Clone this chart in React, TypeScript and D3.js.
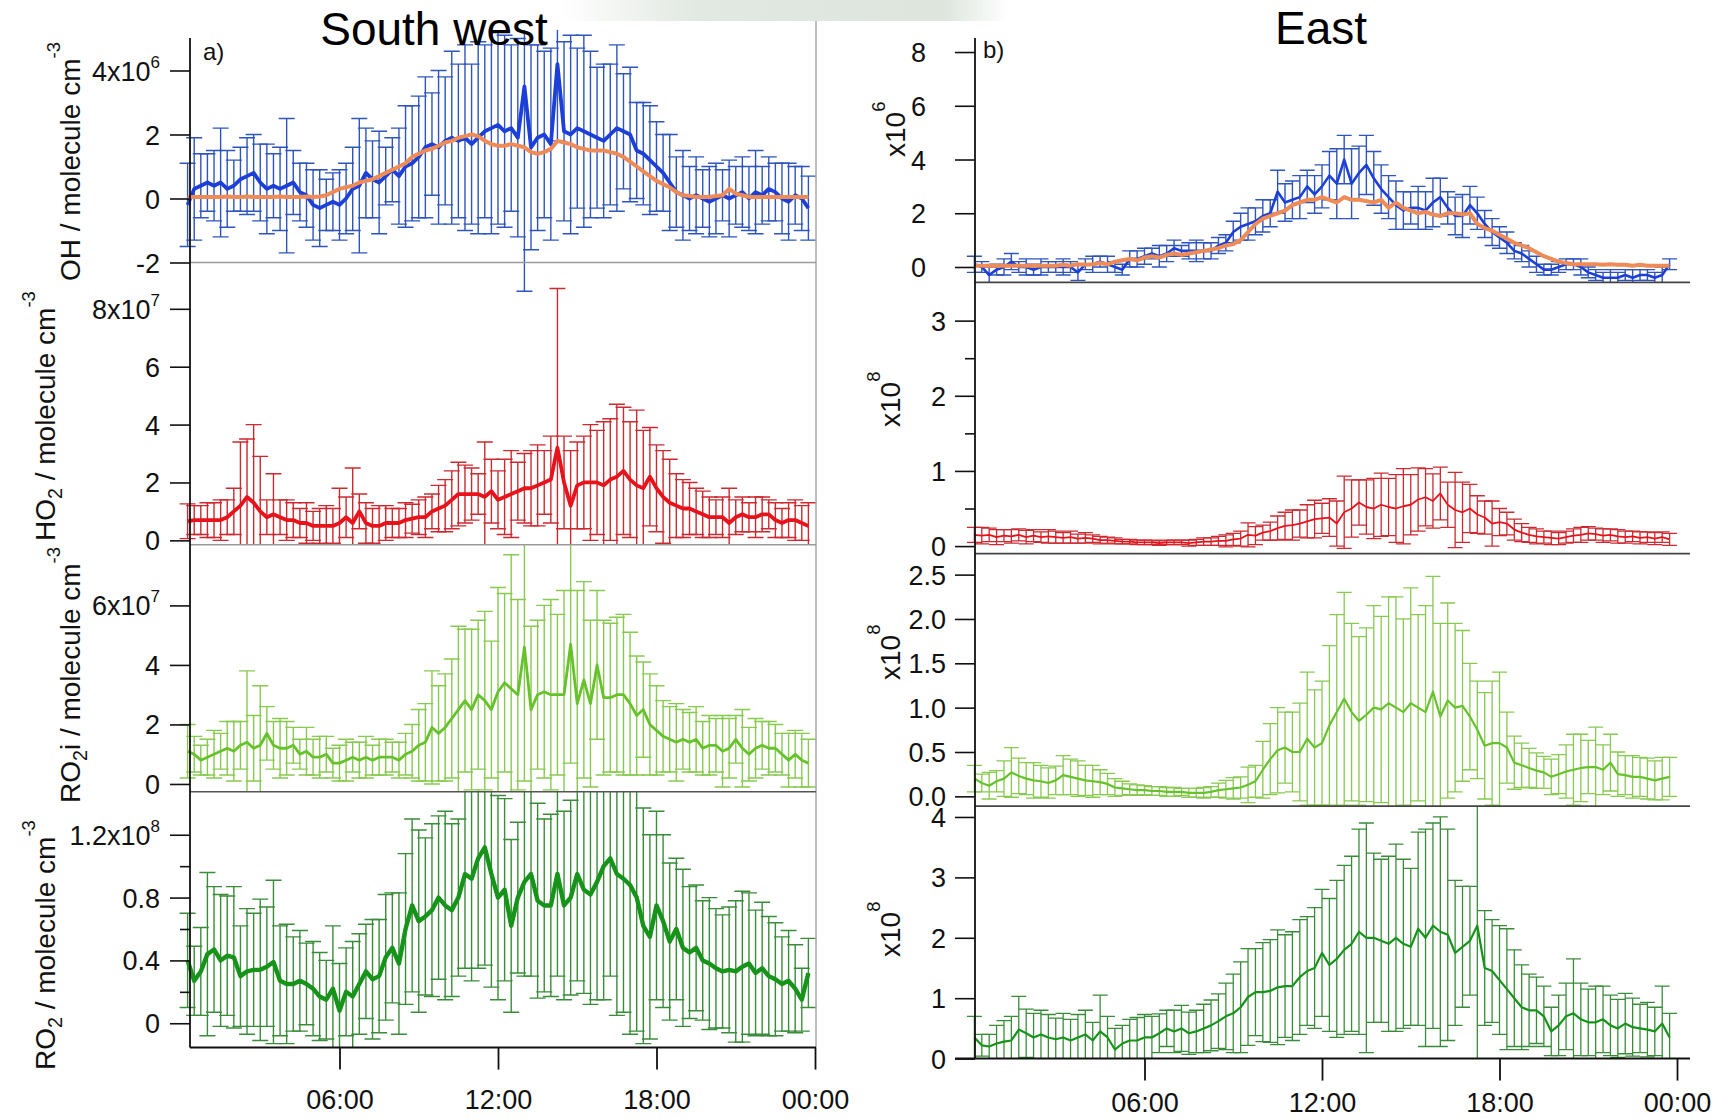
import React, { useEffect, useRef } from "react";
import * as d3 from "d3";

// time of day of each 15-min bin, in hours (00:15 ... 23:45)
const hours: number[] = d3.range(1, 96).map((i) => i / 4);

// ---- South west (a) ----
// OH, 1e6 molecule cm-3
const swOH = [
  -0.2, 0.3, 0.4, 0.5, 0.4, 0.5, 0.3, 0.4, 0.6, 0.7, 0.8, 0.5, 0.3, 0.4, 0.3, 0.4,
  0.5, 0.2, 0.1, -0.2, -0.3, -0.2, -0.1, -0.2, 0.0, 0.3, 0.4, 0.8, 0.6, 0.5, 0.7, 0.9,
  0.7, 1.0, 1.1, 1.3, 1.6, 1.7, 1.6, 1.8, 1.9, 1.8, 1.9, 1.7, 1.9, 2.1, 2.2, 2.3,
  2.1, 2.2, 1.9, 3.5, 1.6, 1.9, 2.0, 1.7, 4.2, 2.1, 2.0, 2.2, 2.1, 2.0, 1.9, 1.8,
  2.0, 2.2, 2.1, 2.0, 1.5, 1.4, 1.2, 1.0, 0.8, 0.5, 0.2, 0.1, 0.0, 0.1, 0.0, -0.1,
  0.0, 0.1, 0.0, 0.1, 0.2, 0.0, 0.2, 0.1, 0.3, 0.2, 0.0, -0.1, 0.1, 0.0, -0.3,
];
const swOHErr = [
  1.3, 1.6, 1.0, 0.9, 1.1, 1.7, 1.2, 0.8, 1.0, 1.2, 1.2, 1.2, 1.4, 1.0, 1.3, 2.1,
  1.0, 0.9, 1.0, 1.1, 1.2, 0.8, 0.9, 1.1, 1.1, 1.3, 2.1, 1.4, 1.2, 1.6, 0.9, 1.0,
  1.5, 1.9, 1.8, 1.9, 2.2, 1.6, 2.4, 2.0, 2.7, 2.4, 2.9, 2.5, 3.0, 2.7, 3.3, 3.1,
  3.0, 2.6, 3.1, 6.4, 3.2, 2.9, 2.6, 3.0, 2.4, 2.8, 3.1, 2.5, 3.0, 2.6, 2.2, 2.4,
  2.2, 2.6, 1.8, 2.1, 1.5, 1.6, 1.7, 1.4, 1.2, 1.5, 1.1, 1.4, 1.0, 1.2, 0.9, 1.1,
  1.1, 0.8, 1.2, 0.9, 1.1, 1.0, 1.3, 0.9, 1.0, 0.9, 1.1, 1.2, 0.9, 1.0, 1.0,
];
const swOHModel = [
  0.05, 0.05, 0.05, 0.05, 0.05, 0.05, 0.06, 0.05, 0.05, 0.06, 0.05, 0.05, 0.05, 0.05, 0.06, 0.05,
  0.05, 0.05, 0.06, 0.05, 0.06, 0.1, 0.2, 0.3, 0.35, 0.4, 0.5, 0.55, 0.6, 0.7, 0.8, 0.9,
  1.0, 1.1, 1.3, 1.4, 1.5, 1.55, 1.65, 1.75, 1.8, 1.9, 1.95, 2.0, 1.95, 1.8, 1.7, 1.65,
  1.65, 1.7, 1.65, 1.6, 1.45, 1.4, 1.45, 1.55, 1.8, 1.75, 1.7, 1.6, 1.55, 1.5, 1.5, 1.5,
  1.45, 1.4, 1.3, 1.15, 1.0, 0.85, 0.7, 0.55, 0.45, 0.35, 0.2, 0.1, 0.08, 0.05, 0.05, 0.05,
  0.08, 0.1, 0.3, 0.15, 0.1, 0.05, 0.05, 0.05, 0.05, 0.05, 0.05, 0.05, 0.05, 0.05, 0.05,
];
// HO2, 1e7 molecule cm-3
const swHO2 = [
  0.66, 0.7, 0.7, 0.7, 0.7, 0.7, 0.8, 1.0, 1.2, 1.5, 1.3, 1.0, 0.8, 0.9, 0.8, 0.7,
  0.7, 0.6, 0.6, 0.5, 0.5, 0.5, 0.5, 0.6, 0.8, 0.6, 1.0, 0.6, 0.5, 0.5, 0.6, 0.6,
  0.6, 0.7, 0.75, 0.8, 0.8, 1.0, 1.1, 1.2, 1.4, 1.6, 1.6, 1.6, 1.6, 1.5, 1.7, 1.4,
  1.5, 1.6, 1.7, 1.8, 1.8, 1.9, 2.0, 2.1, 3.2, 2.0, 1.2, 1.9, 2.0, 2.0, 2.0, 1.9,
  2.1, 2.2, 2.4, 2.1, 1.9, 1.8, 2.2, 1.8, 1.5, 1.3, 1.2, 1.1, 1.1, 1.0, 0.9, 0.8,
  0.8, 0.8, 0.6, 0.8, 0.9, 0.8, 0.8, 0.9, 0.9, 0.7, 0.6, 0.7, 0.7, 0.6, 0.5,
];
const swHO2Err = [
  0.6, 0.5, 0.5, 0.6, 0.6, 0.7, 0.6, 0.8, 2.2, 2.0, 2.7, 1.9, 0.6, 1.4, 0.6, 0.7,
  0.6, 0.5, 0.7, 0.5, 0.6, 0.7, 0.6, 1.2, 0.7, 1.9, 0.6, 0.7, 0.6, 0.7, 0.6, 0.5,
  0.5, 0.6, 0.5, 0.6, 0.7, 0.6, 0.8, 0.9, 1.0, 1.1, 1.0, 0.9, 0.7, 1.9, 1.1, 1.0,
  1.3, 1.5, 1.0, 1.2, 1.3, 1.4, 1.1, 1.5, 5.5, 1.6, 1.9, 1.5, 1.6, 2.0, 1.8, 2.2,
  2.1, 2.5, 2.2, 2.0, 2.6, 2.0, 1.7, 1.5, 1.6, 1.5, 1.1, 1.0, 0.9, 0.8, 0.8, 0.7,
  0.6, 0.7, 1.2, 0.6, 0.6, 0.5, 0.7, 0.6, 0.5, 0.6, 0.5, 0.6, 0.7, 0.6, 0.8,
];
// RO2i, 1e7 molecule cm-3
const swRO2i = [
  1.1, 1.0, 0.8, 0.9, 1.0, 1.1, 1.2, 1.1, 1.3, 1.4, 1.2, 1.3, 1.7, 1.3, 1.2, 1.2,
  1.3, 1.0, 1.1, 0.9, 0.9, 1.0, 0.7, 0.7, 0.8, 0.9, 0.8, 0.9, 0.8, 0.9, 0.9, 0.9,
  0.8, 1.0, 1.1, 1.3, 1.4, 1.9, 1.7, 1.9, 2.2, 2.5, 2.8, 2.5, 3.0, 2.8, 2.5, 3.1,
  3.4, 3.2, 3.0, 4.6, 2.5, 3.0, 3.1, 3.0, 3.0, 3.0, 4.7, 2.7, 3.5, 2.7, 4.0, 2.9,
  2.9, 3.0, 3.0, 2.7, 2.3, 2.5, 2.0, 1.8, 1.6, 1.5, 1.4, 1.5, 1.4, 1.5, 1.2, 1.3,
  1.3, 1.1, 1.2, 1.5, 1.2, 1.0, 1.2, 1.3, 1.2, 1.2, 1.0, 0.8, 1.0, 0.8, 0.7,
];
const swRO2iErr = [
  0.9, 0.6, 0.5, 0.6, 0.8, 0.6, 0.9, 1.0, 0.8, 2.4, 1.1, 2.0, 0.9, 0.8, 1.0, 0.9,
  0.6, 0.5, 0.8, 0.6, 0.7, 0.6, 0.5, 0.6, 0.7, 0.5, 0.6, 0.7, 0.5, 0.6, 0.6, 0.5,
  0.6, 0.7, 0.9, 1.2, 1.3, 1.9, 1.6, 1.8, 2.0, 2.8, 2.4, 2.7, 2.5, 3.0, 2.3, 3.5,
  3.0, 4.5, 3.2, 4.5, 2.8, 2.5, 2.9, 3.2, 2.7, 3.5, 4.0, 3.8, 3.3, 2.8, 2.5, 2.6,
  2.5, 2.6, 2.7, 2.4, 2.0, 1.6, 1.7, 1.5, 1.2, 1.1, 1.3, 1.0, 1.0, 1.1, 0.9, 1.0,
  0.9, 1.2, 1.0, 0.8, 1.3, 0.9, 1.0, 0.8, 0.9, 0.8, 0.7, 0.9, 0.8, 0.9, 0.8,
];
// RO2, 1e8 molecule cm-3
const swRO2 = [
  0.40, 0.27, 0.33, 0.44, 0.47, 0.40, 0.43, 0.42, 0.30, 0.33, 0.34, 0.34, 0.36, 0.39, 0.27, 0.25,
  0.25, 0.27, 0.25, 0.22, 0.17, 0.15, 0.22, 0.08, 0.20, 0.17, 0.25, 0.33, 0.28, 0.30, 0.42, 0.48,
  0.38, 0.60, 0.75, 0.65, 0.68, 0.72, 0.80, 0.75, 0.72, 0.80, 0.95, 0.92, 1.05, 1.12, 0.95, 0.80,
  0.85, 0.62, 0.80, 0.90, 0.95, 0.78, 0.75, 0.75, 0.95, 0.75, 0.80, 0.95, 0.85, 0.82, 0.90, 1.00,
  1.05, 0.95, 0.92, 0.88, 0.80, 0.62, 0.55, 0.75, 0.65, 0.52, 0.60, 0.48, 0.45, 0.48, 0.40, 0.38,
  0.35, 0.33, 0.34, 0.33, 0.36, 0.38, 0.32, 0.35, 0.30, 0.28, 0.25, 0.27, 0.22, 0.15, 0.32,
];
const swRO2Err = [
  0.30, 0.22, 0.28, 0.52, 0.40, 0.42, 0.38, 0.45, 0.32, 0.40, 0.36, 0.45, 0.38, 0.52, 0.35, 0.38,
  0.30, 0.32, 0.26, 0.30, 0.28, 0.25, 0.40, 0.30, 0.28, 0.35, 0.32, 0.30, 0.38, 0.36, 0.40, 0.35,
  0.45, 0.48, 0.55, 0.58, 0.50, 0.55, 0.52, 0.60, 0.55, 0.50, 0.60, 0.65, 0.70, 0.75, 0.72, 0.65,
  0.58, 0.55, 0.48, 0.60, 0.65, 0.62, 0.55, 0.58, 0.65, 0.60, 0.62, 0.68, 0.66, 0.70, 0.75, 0.85,
  0.75, 0.90, 0.85, 0.95, 0.85, 0.75, 0.65, 0.60, 0.55, 0.50, 0.45, 0.50, 0.42, 0.40, 0.38, 0.42,
  0.38, 0.36, 0.40, 0.45, 0.48, 0.45, 0.40, 0.42, 0.38, 0.36, 0.30, 0.32, 0.28, 0.20, 0.22,
];

// ---- East (b) ----
// OH, 1e6 molecule cm-3
const eOH = [
  0.1, 0.0, -0.3, -0.1, 0.0, 0.2, 0.0, 0.0, -0.1, 0.0, 0.0, 0.0, 0.0, 0.0, -0.2, 0.1,
  0.1, 0.2, 0.1, 0.0, -0.1, 0.3, 0.3, 0.4, 0.5, 0.4, 0.5, 0.7, 0.6, 0.6, 0.6, 0.6,
  0.6, 0.8, 0.9, 1.3, 1.5, 1.6, 1.7, 1.9, 2.0, 2.8, 2.4, 2.5, 2.6, 3.0, 2.7, 3.0,
  3.4, 3.1, 4.0, 3.1, 3.5, 3.8, 3.3, 2.9, 2.6, 2.3, 2.1, 2.2, 2.2, 2.1, 2.4, 2.6,
  2.2, 1.9, 1.9, 2.3, 2.0, 1.6, 1.3, 1.1, 0.9, 0.6, 0.5, 0.3, 0.1, -0.1, -0.1, 0.0,
  0.1, 0.1, 0.0, -0.2, -0.3, -0.4, -0.4, -0.4, -0.3, -0.4, -0.3, -0.3, -0.4, -0.3, 0.1,
];
const eOHErr = [
  0.3, 0.2, 0.3, 0.2, 0.3, 0.3, 0.2, 0.3, 0.2, 0.3, 0.2, 0.2, 0.3, 0.2, 0.3, 0.2,
  0.3, 0.2, 0.3, 0.2, 0.2, 0.3, 0.3, 0.3, 0.2, 0.4, 0.3, 0.3, 0.2, 0.3, 0.4, 0.3,
  0.3, 0.3, 0.3, 0.4, 0.5, 0.6, 0.5, 0.6, 0.5, 0.8, 0.7, 0.7, 0.8, 0.6, 0.7, 0.8,
  0.9, 1.3, 0.9, 1.3, 1.0, 1.1, 1.0, 0.9, 0.8, 0.9, 0.7, 0.6, 0.8, 0.7, 0.9, 0.7,
  0.6, 0.7, 0.8, 0.7, 0.6, 0.5, 0.5, 0.4, 0.4, 0.3, 0.3, 0.3, 0.3, 0.2, 0.2, 0.2,
  0.2, 0.2, 0.3, 0.2, 0.2, 0.2, 0.3, 0.2, 0.2, 0.3, 0.2, 0.2, 0.2, 0.3, 0.2,
];
const eOHModel = [
  0.05, 0.05, 0.05, 0.05, 0.05, 0.05, 0.05, 0.05, 0.05, 0.05, 0.05, 0.05, 0.08, 0.05, 0.1, 0.08,
  0.1, 0.15, 0.1, 0.2, 0.25, 0.3, 0.25, 0.35, 0.4, 0.35, 0.45, 0.5, 0.45, 0.5, 0.55, 0.6,
  0.65, 0.7, 0.8, 0.85, 1.0, 1.3, 1.6, 1.8, 1.9, 2.0, 2.1, 2.3, 2.4, 2.5, 2.5, 2.6,
  2.5, 2.4, 2.6, 2.5, 2.5, 2.45, 2.4, 2.5, 2.2, 2.4, 2.2, 2.1, 2.0, 2.05, 1.95, 1.9,
  2.0, 2.0, 1.95, 2.0, 1.6, 1.45, 1.35, 1.2, 1.05, 0.9, 0.8, 0.7, 0.55, 0.4, 0.3, 0.2,
  0.15, 0.1, 0.1, 0.1, 0.1, 0.08, 0.1, 0.08, 0.08, 0.05, 0.08, 0.05, 0.05, 0.05, 0.05,
];
// HO2, 1e8 molecule cm-3
const eHO2 = [
  0.15, 0.14, 0.15, 0.12, 0.14, 0.13, 0.15, 0.12, 0.14, 0.12, 0.13, 0.12, 0.11, 0.12, 0.10, 0.11,
  0.10, 0.08, 0.08, 0.07, 0.06, 0.06, 0.05, 0.05, 0.05, 0.04, 0.05, 0.05, 0.05, 0.04, 0.05, 0.06,
  0.06, 0.07, 0.07, 0.09, 0.10, 0.15, 0.14, 0.18, 0.20, 0.24, 0.27, 0.28, 0.30, 0.33, 0.36, 0.37,
  0.38, 0.30, 0.45, 0.50, 0.58, 0.52, 0.50, 0.55, 0.52, 0.50, 0.53, 0.55, 0.62, 0.65, 0.60, 0.70,
  0.55, 0.48, 0.45, 0.50, 0.42, 0.38, 0.30, 0.32, 0.30, 0.22, 0.18, 0.15, 0.13, 0.12, 0.11, 0.10,
  0.12, 0.14, 0.15, 0.17, 0.16, 0.14, 0.15, 0.13, 0.12, 0.13, 0.11, 0.12, 0.10, 0.12, 0.09,
];
const eHO2Err = [
  0.10, 0.11, 0.09, 0.10, 0.08, 0.09, 0.08, 0.09, 0.08, 0.07, 0.09, 0.08, 0.07, 0.08, 0.06, 0.07,
  0.05, 0.05, 0.04, 0.04, 0.03, 0.03, 0.03, 0.03, 0.03, 0.03, 0.03, 0.03, 0.03, 0.04, 0.04, 0.05,
  0.05, 0.06, 0.08, 0.08, 0.10, 0.16, 0.12, 0.10, 0.12, 0.16, 0.18, 0.20, 0.18, 0.22, 0.25, 0.20,
  0.25, 0.30, 0.48, 0.38, 0.30, 0.36, 0.40, 0.42, 0.38, 0.45, 0.50, 0.40, 0.42, 0.38, 0.36, 0.35,
  0.30, 0.50, 0.40, 0.32, 0.25, 0.22, 0.30, 0.18, 0.15, 0.14, 0.12, 0.10, 0.10, 0.08, 0.09, 0.08,
  0.08, 0.09, 0.10, 0.09, 0.08, 0.09, 0.08, 0.09, 0.08, 0.07, 0.08, 0.07, 0.08, 0.07, 0.08,
];
// RO2i, 1e8 molecule cm-3
const eRO2i = [
  0.20, 0.15, 0.12, 0.17, 0.20, 0.27, 0.23, 0.20, 0.18, 0.17, 0.15, 0.18, 0.24, 0.22, 0.20, 0.18,
  0.17, 0.16, 0.14, 0.10, 0.09, 0.08, 0.07, 0.07, 0.06, 0.06, 0.05, 0.05, 0.05, 0.04, 0.04, 0.04,
  0.05, 0.07, 0.08, 0.09, 0.10, 0.13, 0.17, 0.30, 0.42, 0.52, 0.55, 0.50, 0.50, 0.65, 0.55, 0.60,
  0.80, 0.95, 1.10, 0.95, 0.85, 0.92, 1.00, 0.98, 1.05, 1.00, 0.95, 1.05, 1.00, 0.95, 1.18, 0.90,
  1.08, 1.00, 1.02, 0.90, 0.75, 0.57, 0.60, 0.60, 0.55, 0.38, 0.35, 0.32, 0.29, 0.27, 0.22, 0.25,
  0.28, 0.30, 0.32, 0.33, 0.33, 0.30, 0.38, 0.25, 0.24, 0.22, 0.22, 0.20, 0.18, 0.20, 0.22,
];
const eRO2iErr = [
  0.15, 0.10, 0.15, 0.12, 0.20, 0.28, 0.20, 0.18, 0.20, 0.18, 0.17, 0.16, 0.22, 0.20, 0.20, 0.17,
  0.18, 0.14, 0.12, 0.10, 0.08, 0.06, 0.06, 0.05, 0.05, 0.05, 0.05, 0.05, 0.04, 0.05, 0.05, 0.06,
  0.06, 0.08, 0.10, 0.12, 0.12, 0.20, 0.18, 0.32, 0.40, 0.48, 0.40, 0.45, 0.55, 0.75, 0.65, 0.70,
  0.90, 1.10, 1.20, 1.00, 0.95, 0.98, 1.15, 1.05, 1.20, 1.25, 1.05, 1.30, 1.05, 1.20, 1.30, 1.05,
  1.10, 0.95, 0.85, 0.60, 0.55, 0.60, 0.70, 0.80, 0.40, 0.30, 0.25, 0.22, 0.20, 0.18, 0.20, 0.22,
  0.30, 0.40, 0.38, 0.30, 0.45, 0.28, 0.32, 0.25, 0.22, 0.24, 0.22, 0.23, 0.22, 0.24, 0.22,
];
// RO2, 1e8 molecule cm-3
const eRO2 = [
  0.35, 0.22, 0.20, 0.25, 0.28, 0.30, 0.48, 0.42, 0.35, 0.40, 0.35, 0.32, 0.35, 0.30, 0.35, 0.40,
  0.30, 0.45, 0.35, 0.15, 0.25, 0.30, 0.30, 0.35, 0.35, 0.42, 0.50, 0.45, 0.50, 0.42, 0.45, 0.50,
  0.55, 0.62, 0.70, 0.75, 0.85, 1.02, 1.10, 1.10, 1.12, 1.18, 1.20, 1.20, 1.35, 1.45, 1.50, 1.75,
  1.55, 1.65, 1.80, 1.90, 2.10, 2.00, 2.00, 1.95, 1.90, 2.00, 1.90, 1.85, 2.15, 2.00, 2.20, 2.10,
  2.05, 1.75, 1.85, 1.95, 2.20, 1.50, 1.45, 1.30, 1.15, 1.00, 0.85, 0.80, 0.80, 0.70, 0.45, 0.55,
  0.70, 0.75, 0.65, 0.60, 0.60, 0.65, 0.55, 0.50, 0.58, 0.52, 0.50, 0.48, 0.45, 0.58, 0.35,
];
const eRO2Err = [
  0.35, 0.18, 0.20, 0.30, 0.35, 0.40, 0.55, 0.40, 0.40, 0.40, 0.38, 0.35, 0.40, 0.35, 0.38, 0.40,
  0.30, 0.60, 0.35, 0.35, 0.30, 0.35, 0.38, 0.38, 0.35, 0.32, 0.30, 0.35, 0.38, 0.35, 0.35, 0.40,
  0.42, 0.45, 0.55, 0.65, 0.75, 0.80, 0.72, 0.82, 0.85, 0.95, 0.85, 0.90, 0.95, 0.90, 1.00, 1.05,
  1.10, 1.30, 1.40, 1.45, 1.70, 1.90, 1.40, 1.35, 1.45, 1.55, 1.40, 1.30, 1.60, 1.80, 1.70, 1.90,
  1.75, 1.20, 1.00, 0.90, 2.60, 0.95, 0.85, 0.90, 1.00, 0.80, 0.70, 0.60, 0.55, 0.50, 0.40, 0.50,
  0.55, 0.90, 0.60, 0.55, 0.60, 0.55, 0.50, 0.48, 0.50, 0.48, 0.40, 0.45, 0.40, 0.62, 0.40,
];

const timeTicks = [6, 12, 18, 24];
const timeLabels = ["06:00", "12:00", "18:00", "00:00"];

const W = 1729;
const H = 1120;
const FONT = "'Liberation Sans', Arial, Helvetica, sans-serif";

type Tick = { v: number; l: string; s?: string };
type Panel = {
  mean: number[];
  err: number[];
  model?: number[];
  domain: [number, number];
  top: number;
  bottom: number;
  clip: [number, number];
  line: string;
  bar: string;
  lw: number;
  bw: number;
  cap: number;
  ticks: Tick[];
  minor?: number[];
};

const BLUE = "#1c3fd8";
const BLUE_BAR = "#2f55bd";
const ORANGE = "#ef8b57";
const RED = "#e8121b";
const RED_BAR = "#cc2a30";
const LGREEN = "#66c22a";
const LGREEN_BAR = "#88c950";
const DGREEN = "#16941a";
const DGREEN_BAR = "#3a8c3a";

const leftPanels: Panel[] = [
  {
    mean: swOH, err: swOHErr, model: swOHModel, domain: [-2, 5], top: 38.5, bottom: 262.5, clip: [30, 300],
    line: BLUE, bar: BLUE_BAR, lw: 3.8, bw: 1.4, cap: 16,
    ticks: [{ v: 4, l: "4x10", s: "6" }, { v: 2, l: "2" }, { v: 0, l: "0" }, { v: -2, l: "-2" }],
  },
  {
    mean: swHO2, err: swHO2Err, domain: [-0.15, 9.6], top: 262.5, bottom: 544.7, clip: [262.5, 544.7],
    line: RED, bar: RED_BAR, lw: 3.8, bw: 1.4, cap: 16,
    ticks: [{ v: 8, l: "8x10", s: "7" }, { v: 6, l: "6" }, { v: 4, l: "4" }, { v: 2, l: "2" }, { v: 0, l: "0" }],
  },
  {
    mean: swRO2i, err: swRO2iErr, domain: [-0.26, 8.04], top: 544.7, bottom: 791.7, clip: [544.7, 791.7],
    line: LGREEN, bar: LGREEN_BAR, lw: 2.8, bw: 1.4, cap: 16,
    ticks: [{ v: 6, l: "6x10", s: "7" }, { v: 4, l: "4" }, { v: 2, l: "2" }, { v: 0, l: "0" }],
  },
  {
    mean: swRO2, err: swRO2Err, domain: [-0.155, 1.474], top: 791.7, bottom: 1047.6, clip: [791.7, 1047.6],
    line: DGREEN, bar: DGREEN_BAR, lw: 4.4, bw: 1.4, cap: 16,
    ticks: [{ v: 1.2, l: "1.2x10", s: "8" }, { v: 0.8, l: "0.8" }, { v: 0.4, l: "0.4" }, { v: 0, l: "0" }],
    minor: [0.2, 0.6, 1.0],
  },
];

const rightPanels: Panel[] = [
  {
    mean: eOH, err: eOHErr, model: eOHModel, domain: [-0.57, 8.5], top: 38.6, bottom: 282.3, clip: [30, 282.3],
    line: BLUE, bar: BLUE_BAR, lw: 2.6, bw: 1.4, cap: 15,
    ticks: [{ v: 8, l: "8" }, { v: 6, l: "6" }, { v: 4, l: "4" }, { v: 2, l: "2" }, { v: 0, l: "0" }],
  },
  {
    mean: eHO2, err: eHO2Err, domain: [-0.1, 3.51], top: 282.3, bottom: 553.6, clip: [282.3, 553.6],
    line: RED, bar: RED_BAR, lw: 1.8, bw: 1.3, cap: 15,
    ticks: [{ v: 3, l: "3" }, { v: 2, l: "2" }, { v: 1, l: "1" }, { v: 0, l: "0" }],
    minor: [0.5, 1.5, 2.5],
  },
  {
    mean: eRO2i, err: eRO2iErr, domain: [-0.11, 2.737], top: 553.6, bottom: 806.1, clip: [553.6, 806.1],
    line: LGREEN, bar: LGREEN_BAR, lw: 2.2, bw: 1.3, cap: 15,
    ticks: [{ v: 2.5, l: "2.5" }, { v: 2, l: "2.0" }, { v: 1.5, l: "1.5" }, { v: 1, l: "1.0" }, { v: 0.5, l: "0.5" }, { v: 0, l: "0.0" }],
  },
  {
    mean: eRO2, err: eRO2Err, domain: [0, 4.18], top: 806.1, bottom: 1058.6, clip: [806.1, 1058.6],
    line: DGREEN, bar: DGREEN_BAR, lw: 2.2, bw: 1.3, cap: 15,
    ticks: [{ v: 4, l: "4" }, { v: 3, l: "3" }, { v: 2, l: "2" }, { v: 1, l: "1" }, { v: 0, l: "0" }],
  },
];

type Row = { t: number; m: number; e: number; f: number };
type Part = { t: string; k?: "sub" | "sup" };

export default function App() {
  const ref = useRef<SVGSVGElement | null>(null);

  useEffect(() => {
    const svg = d3.select(ref.current);
    svg.selectAll("*").remove();
    const defs = svg.append("defs");

    svg.append("rect").attr("width", W).attr("height", H).attr("fill", "#fff");

    // faint grey strip at the very top (part of the source slide)
    const grad = defs.append("linearGradient").attr("id", "strip").attr("x1", 0).attr("x2", 1).attr("y1", 0).attr("y2", 0);
    grad.append("stop").attr("offset", "0%").attr("stop-color", "#e2e8e2").attr("stop-opacity", 0);
    grad.append("stop").attr("offset", "30%").attr("stop-color", "#e2e8e2").attr("stop-opacity", 1);
    grad.append("stop").attr("offset", "85%").attr("stop-color", "#dde5dd").attr("stop-opacity", 1);
    grad.append("stop").attr("offset", "100%").attr("stop-color", "#dde5dd").attr("stop-opacity", 0);
    svg.append("rect").attr("x", 560).attr("y", 0).attr("width", 450).attr("height", 21).attr("fill", "url(#strip)");

    const xL = d3.scaleLinear().domain([0, 24]).range([181, 815]);
    const xR = d3.scaleLinear().domain([0, 24]).range([967, 1677]);

    const drawPanel = (x: d3.ScaleLinear<number, number>, p: Panel, id: string, axisX: number, labelX: number) => {
      const y = d3.scaleLinear().domain(p.domain).range([p.bottom, p.top]);
      defs.append("clipPath").attr("id", id)
        .append("rect").attr("x", 0).attr("y", p.clip[0]).attr("width", W).attr("height", p.clip[1] - p.clip[0]);
      const rows: Row[] = hours.map((t, i) => ({ t, m: p.mean[i], e: p.err[i], f: p.model ? p.model[i] : 0 }));
      const g = svg.append("g").attr("clip-path", `url(#${id})`);
      const half = p.cap / 2;
      g.append("g").selectAll("path").data(rows).join("path")
        .attr("d", (d) => {
          const px = x(d.t);
          const lo = y(d.m - d.e);
          const hi = y(d.m + d.e);
          return `M${px},${lo}V${hi}M${px - half},${hi}H${px + half}M${px - half},${lo}H${px + half}`;
        })
        .attr("fill", "none").attr("stroke", p.bar).attr("stroke-width", p.bw);
      const line = d3.line<Row>().x((d) => x(d.t)).y((d) => y(d.m));
      g.append("path").datum(rows).attr("d", line)
        .attr("fill", "none").attr("stroke", p.line).attr("stroke-width", p.lw).attr("stroke-linejoin", "round");
      if (p.model) {
        const mline = d3.line<Row>().x((d) => x(d.t)).y((d) => y(d.f));
        g.append("path").datum(rows).attr("d", mline)
          .attr("fill", "none").attr("stroke", ORANGE).attr("stroke-width", 4).attr("stroke-linejoin", "round");
      }

      // tick marks
      const ax = svg.append("g").attr("transform", `translate(${axisX},0)`).attr("color", "#111");
      ax.call(d3.axisLeft(y).tickValues(p.ticks.map((t) => t.v)).tickSize(20).tickFormat(() => ""));
      ax.select(".domain").remove();
      ax.selectAll("line").attr("stroke-width", 1.6);
      if (p.minor) {
        const mx = svg.append("g").attr("transform", `translate(${axisX},0)`).attr("color", "#111");
        mx.call(d3.axisLeft(y).tickValues(p.minor).tickSize(10).tickFormat(() => ""));
        mx.select(".domain").remove();
        mx.selectAll("line").attr("stroke-width", 1.6);
      }
      // tick labels
      p.ticks.forEach((tk) => {
        const txt = svg.append("text")
          .attr("x", labelX).attr("y", y(tk.v) + 10)
          .attr("text-anchor", "end")
          .attr("font-family", FONT).attr("font-size", 27).attr("fill", "#111");
        txt.append("tspan").text(tk.l);
        if (tk.s) txt.append("tspan").attr("dy", -13).attr("font-size", 17).text(tk.s);
      });
    };

    leftPanels.forEach((p, i) => drawPanel(xL, p, `clipL${i}`, 190, 160));
    rightPanels.forEach((p, i) => drawPanel(xR, p, `clipR${i}`, 975, i === 0 ? 926 : 946));

    // frames and panel separators
    const frame = svg.append("g").attr("fill", "none");
    frame.append("line").attr("x1", 816).attr("x2", 816).attr("y1", 21).attr("y2", 1047.6).attr("stroke", "#a8a8a8").attr("stroke-width", 1.5);
    frame.append("line").attr("x1", 190).attr("x2", 816).attr("y1", 262.5).attr("y2", 262.5).attr("stroke", "#9a9a9a").attr("stroke-width", 1.5);
    frame.append("line").attr("x1", 190).attr("x2", 816).attr("y1", 544.7).attr("y2", 544.7).attr("stroke", "#9a9a9a").attr("stroke-width", 1.5);
    frame.append("line").attr("x1", 190).attr("x2", 816).attr("y1", 791.7).attr("y2", 791.7).attr("stroke", "#555").attr("stroke-width", 1.6);
    frame.append("line").attr("x1", 190).attr("x2", 190).attr("y1", 38).attr("y2", 1047.6).attr("stroke", "#111").attr("stroke-width", 1.8);
    [282.3, 553.6, 806.1].forEach((yy) => {
      frame.append("line").attr("x1", 975).attr("x2", 1690).attr("y1", yy).attr("y2", yy).attr("stroke", "#444").attr("stroke-width", 1.8);
    });
    frame.append("line").attr("x1", 975).attr("x2", 975).attr("y1", 38).attr("y2", 1058.6).attr("stroke", "#111").attr("stroke-width", 1.8);

    // time axes
    const drawTime = (x: d3.ScaleLinear<number, number>, yAxis: number, x0: number, x1: number, labelY: number) => {
      svg.append("line").attr("x1", x0).attr("x2", x1).attr("y1", yAxis).attr("y2", yAxis).attr("stroke", "#111").attr("stroke-width", 2);
      const g = svg.append("g").attr("transform", `translate(0,${yAxis})`).attr("color", "#111");
      g.call(d3.axisBottom(x).tickValues(timeTicks).tickSize(22).tickFormat((_, i) => timeLabels[i]));
      g.select(".domain").remove();
      g.selectAll("line").attr("stroke-width", 1.8);
      g.selectAll("text").attr("y", labelY).attr("dy", 0).attr("font-family", FONT).attr("font-size", 27).attr("fill", "#111");
    };
    drawTime(xL, 1047.6, 190, 816, 61);
    drawTime(xR, 1058.6, 955, 1690, 53);

    // rotated axis titles
    const rotLabel = (x0: number, y0: number, parts: Part[], size: number) => {
      const t = svg.append("text")
        .attr("x", x0).attr("y", y0)
        .attr("transform", `rotate(-90,${x0},${y0})`)
        .attr("font-family", FONT).attr("font-size", size).attr("fill", "#111");
      let shift = 0;
      parts.forEach((p) => {
        const ts = t.append("tspan").text(p.t);
        let target = 0;
        if (p.k === "sub") { target = 7; ts.attr("font-size", size * 0.7); }
        if (p.k === "sup") { target = -20; ts.attr("font-size", size * 0.66); }
        if (target !== shift) ts.attr("dy", target - shift);
        shift = target;
      });
    };
    rotLabel(80, 281, [{ t: "OH / molecule cm" }, { t: "-3", k: "sup" }], 28);
    rotLabel(55, 541, [{ t: "HO" }, { t: "2", k: "sub" }, { t: " / molecule cm" }, { t: "-3", k: "sup" }], 28);
    rotLabel(80, 803, [{ t: "RO" }, { t: "2", k: "sub" }, { t: "i / molecule cm" }, { t: "-3", k: "sup" }], 28);
    rotLabel(55, 1070, [{ t: "RO" }, { t: "2", k: "sub" }, { t: " / molecule cm" }, { t: "-3", k: "sup" }], 28);

    rotLabel(905, 157, [{ t: "x10" }, { t: "6", k: "sup" }], 28);
    rotLabel(900, 427, [{ t: "x10" }, { t: "8", k: "sup" }], 28);
    rotLabel(900, 680, [{ t: "x10" }, { t: "8", k: "sup" }], 28);
    rotLabel(900, 957, [{ t: "x10" }, { t: "8", k: "sup" }], 28);

    // panel tags and titles
    svg.append("text").attr("x", 203).attr("y", 60).attr("font-family", FONT).attr("font-size", 24).attr("fill", "#111").text("a)");
    svg.append("text").attr("x", 983).attr("y", 58).attr("font-family", FONT).attr("font-size", 24).attr("fill", "#111").text("b)");
    svg.append("text").attr("x", 434).attr("y", 45).attr("text-anchor", "middle").attr("font-family", FONT).attr("font-size", 46).attr("fill", "#000").text("South west");
    svg.append("text").attr("x", 1321).attr("y", 44).attr("text-anchor", "middle").attr("font-family", FONT).attr("font-size", 46).attr("fill", "#000").text("East");
  }, []);

  return (
    <svg
      ref={ref}
      width={W}
      height={H}
      style={{ position: "absolute", left: 0, top: 0, display: "block" }}
    />
  );
}
